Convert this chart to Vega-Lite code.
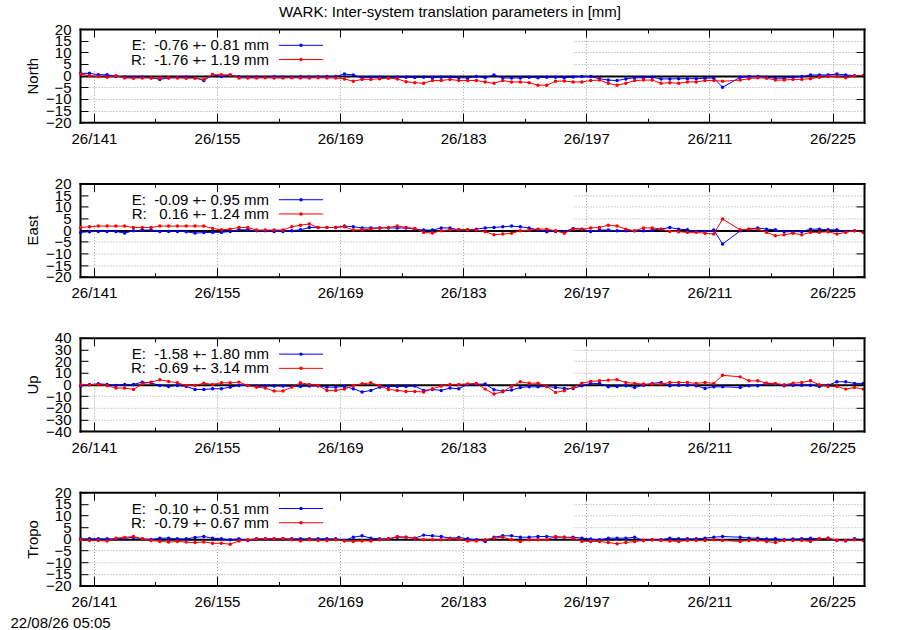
{
  "$schema": "https://vega.github.io/schema/vega-lite/v6.json",
  "autosize": {"type": "pad"},
  "padding": {"left": 10, "top": 5, "right": 35, "bottom": 5},
  "background": "white",
  "title": {
    "text": "WARK: Inter-system translation parameters in [mm]",
    "anchor": "middle",
    "frame": "group",
    "dx": -22,
    "offset": -10,
    "baseline": "alphabetic",
    "font": "Liberation Sans",
    "fontSize": 15,
    "fontWeight": "normal",
    "color": "black"
  },
  "datasets": {
    "trans": [
      {"day":139.5,"north_E":1.0,"north_R":0.7,"east_E":-1.0,"east_R":1.1,"up_E":-1.4,"up_R":-0.3,"tropo_E":0.0,"tropo_R":-0.4},
      {"day":140.5,"north_E":1.0,"north_R":0.0,"east_E":-0.7,"east_R":1.4,"up_E":-0.3,"up_R":0.0,"tropo_E":0.0,"tropo_R":-0.7},
      {"day":141.5,"north_E":0.4,"north_R":-0.4,"east_E":-0.6,"east_R":1.7,"up_E":0.6,"up_R":0.0,"tropo_E":0.0,"tropo_R":-0.7},
      {"day":142.5,"north_E":0.4,"north_R":-0.7,"east_E":-0.6,"east_R":1.7,"up_E":0.0,"up_R":-0.9,"tropo_E":0.0,"tropo_R":-0.9},
      {"day":143.5,"north_E":-0.3,"north_R":0.0,"east_E":-0.6,"east_R":1.7,"up_E":-0.9,"up_R":-3.1,"tropo_E":0.0,"tropo_R":0.3},
      {"day":144.5,"north_E":-0.6,"north_R":-1.0,"east_E":-1.3,"east_R":1.7,"up_E":0.0,"up_R":-3.1,"tropo_E":0.3,"tropo_R":0.6},
      {"day":145.5,"north_E":-0.7,"north_R":-1.1,"east_E":-0.3,"east_R":1.1,"up_E":0.0,"up_R":-4.3,"tropo_E":0.6,"tropo_R":1.0},
      {"day":146.5,"north_E":-0.6,"north_R":-1.0,"east_E":0.0,"east_R":1.1,"up_E":2.0,"up_R":0.6,"tropo_E":0.0,"tropo_R":0.0},
      {"day":147.5,"north_E":-0.9,"north_R":-1.0,"east_E":0.0,"east_R":1.1,"up_E":1.4,"up_R":2.0,"tropo_E":-0.3,"tropo_R":-0.7},
      {"day":148.5,"north_E":-1.6,"north_R":-1.0,"east_E":-0.6,"east_R":1.7,"up_E":-0.9,"up_R":4.0,"tropo_E":0.3,"tropo_R":-1.1},
      {"day":149.5,"north_E":-1.0,"north_R":-0.9,"east_E":-0.6,"east_R":1.7,"up_E":-1.7,"up_R":2.6,"tropo_E":0.3,"tropo_R":-1.4},
      {"day":150.5,"north_E":-0.8,"north_R":-1.0,"east_E":-0.6,"east_R":1.7,"up_E":-0.9,"up_R":1.4,"tropo_E":0.0,"tropo_R":-1.1},
      {"day":151.5,"north_E":-0.6,"north_R":-1.1,"east_E":-0.7,"east_R":1.7,"up_E":-1.7,"up_R":-0.9,"tropo_E":0.0,"tropo_R":-1.4},
      {"day":152.5,"north_E":-0.9,"north_R":-1.1,"east_E":-1.3,"east_R":1.7,"up_E":-4.3,"up_R":-0.9,"tropo_E":0.6,"tropo_R":-1.6},
      {"day":153.5,"north_E":-2.1,"north_R":-1.6,"east_E":-1.1,"east_R":1.7,"up_E":-4.3,"up_R":1.1,"tropo_E":1.0,"tropo_R":-1.3},
      {"day":154.5,"north_E":0.4,"north_R":0.4,"east_E":-1.0,"east_R":0.7,"up_E":-3.7,"up_R":0.0,"tropo_E":0.3,"tropo_R":-1.9},
      {"day":155.5,"north_E":-0.4,"north_R":0.4,"east_E":-1.0,"east_R":0.1,"up_E":-3.7,"up_R":1.4,"tropo_E":0.0,"tropo_R":-1.9},
      {"day":156.5,"north_E":0.3,"north_R":0.3,"east_E":-0.6,"east_R":0.4,"up_E":-2.3,"up_R":1.4,"tropo_E":-0.4,"tropo_R":-2.3},
      {"day":157.5,"north_E":-0.5,"north_R":-1.0,"east_E":0.1,"east_R":1.1,"up_E":-0.9,"up_R":2.0,"tropo_E":0.0,"tropo_R":-0.9},
      {"day":158.5,"north_E":-0.7,"north_R":-1.0,"east_E":0.1,"east_R":1.1,"up_E":-0.9,"up_R":-0.9,"tropo_E":-0.7,"tropo_R":-0.4},
      {"day":159.5,"north_E":-0.6,"north_R":-1.0,"east_E":-0.3,"east_R":0.0,"up_E":-1.7,"up_R":-2.3,"tropo_E":0.0,"tropo_R":0.0},
      {"day":160.5,"north_E":-0.7,"north_R":-0.9,"east_E":-0.3,"east_R":0.0,"up_E":-1.4,"up_R":-3.1,"tropo_E":0.0,"tropo_R":0.0},
      {"day":161.5,"north_E":-0.5,"north_R":-1.0,"east_E":-0.6,"east_R":0.0,"up_E":-1.4,"up_R":-5.7,"tropo_E":0.0,"tropo_R":0.0},
      {"day":162.5,"north_E":-0.6,"north_R":-1.0,"east_E":-0.6,"east_R":0.0,"up_E":-1.4,"up_R":-5.7,"tropo_E":0.0,"tropo_R":0.0},
      {"day":163.5,"north_E":-0.7,"north_R":-0.9,"east_E":-0.3,"east_R":1.4,"up_E":-1.7,"up_R":-2.3,"tropo_E":0.0,"tropo_R":-0.4},
      {"day":164.5,"north_E":-0.5,"north_R":-1.0,"east_E":0.1,"east_R":2.1,"up_E":-1.7,"up_R":1.4,"tropo_E":0.0,"tropo_R":-0.9},
      {"day":165.5,"north_E":-0.6,"north_R":-1.0,"east_E":1.1,"east_R":2.6,"up_E":-1.4,"up_R":0.0,"tropo_E":0.0,"tropo_R":-0.4},
      {"day":166.5,"north_E":-0.5,"north_R":-0.9,"east_E":1.1,"east_R":1.1,"up_E":-1.4,"up_R":-0.9,"tropo_E":0.0,"tropo_R":-0.7},
      {"day":167.5,"north_E":-0.4,"north_R":-1.0,"east_E":1.1,"east_R":1.1,"up_E":-2.3,"up_R":-5.1,"tropo_E":0.0,"tropo_R":-0.7},
      {"day":168.5,"north_E":-0.4,"north_R":-1.0,"east_E":1.1,"east_R":1.1,"up_E":-2.3,"up_R":-5.1,"tropo_E":0.0,"tropo_R":-0.4},
      {"day":169.5,"north_E":0.7,"north_R":-1.4,"east_E":1.7,"east_R":1.4,"up_E":-1.7,"up_R":-4.0,"tropo_E":-0.7,"tropo_R":-0.9},
      {"day":170.5,"north_E":0.3,"north_R":-2.4,"east_E":1.4,"east_R":0.0,"up_E":-3.7,"up_R":-1.0,"tropo_E":0.7,"tropo_R":-1.1},
      {"day":171.5,"north_E":-1.0,"north_R":-1.6,"east_E":0.9,"east_R":0.1,"up_E":-6.5,"up_R":0.6,"tropo_E":1.3,"tropo_R":-0.9},
      {"day":172.5,"north_E":-0.7,"north_R":-1.6,"east_E":0.9,"east_R":0.4,"up_E":-5.1,"up_R":1.4,"tropo_E":0.3,"tropo_R":-0.9},
      {"day":173.5,"north_E":-0.7,"north_R":-1.3,"east_E":0.9,"east_R":0.9,"up_E":-2.3,"up_R":-0.9,"tropo_E":0.0,"tropo_R":-0.4},
      {"day":174.5,"north_E":-0.9,"north_R":-1.1,"east_E":0.9,"east_R":1.1,"up_E":-1.7,"up_R":-4.3,"tropo_E":0.0,"tropo_R":0.0},
      {"day":175.5,"north_E":-0.7,"north_R":-1.4,"east_E":0.9,"east_R":1.7,"up_E":-1.7,"up_R":-5.1,"tropo_E":0.7,"tropo_R":1.0},
      {"day":176.5,"north_E":-0.7,"north_R":-2.6,"east_E":0.9,"east_R":1.1,"up_E":-1.7,"up_R":-6.0,"tropo_E":0.7,"tropo_R":0.7},
      {"day":177.5,"north_E":-0.8,"north_R":-3.0,"east_E":0.4,"east_R":0.7,"up_E":-1.4,"up_R":-6.0,"tropo_E":0.3,"tropo_R":0.3},
      {"day":178.5,"north_E":-0.7,"north_R":-3.3,"east_E":0.0,"east_R":-1.0,"up_E":-5.1,"up_R":-6.5,"tropo_E":1.6,"tropo_R":-0.4},
      {"day":179.5,"north_E":-0.9,"north_R":-2.1,"east_E":0.0,"east_R":-1.3,"up_E":-4.3,"up_R":-3.7,"tropo_E":1.3,"tropo_R":-0.4},
      {"day":180.5,"north_E":-0.7,"north_R":-2.1,"east_E":0.9,"east_R":-0.3,"up_E":-5.1,"up_R":-1.4,"tropo_E":1.0,"tropo_R":-0.4},
      {"day":181.5,"north_E":-0.7,"north_R":-1.6,"east_E":0.9,"east_R":0.1,"up_E":-3.1,"up_R":0.0,"tropo_E":0.3,"tropo_R":0.0},
      {"day":182.5,"north_E":-0.9,"north_R":-2.1,"east_E":0.1,"east_R":0.1,"up_E":-3.7,"up_R":0.0,"tropo_E":0.6,"tropo_R":0.0},
      {"day":183.5,"north_E":-1.0,"north_R":-2.1,"east_E":0.1,"east_R":0.1,"up_E":0.0,"up_R":0.5,"tropo_E":0.0,"tropo_R":-0.9},
      {"day":184.5,"north_E":-0.4,"north_R":-2.1,"east_E":0.4,"east_R":0.0,"up_E":0.3,"up_R":0.9,"tropo_E":-0.4,"tropo_R":-0.9},
      {"day":185.5,"north_E":-0.9,"north_R":-2.7,"east_E":0.9,"east_R":-0.7,"up_E":0.3,"up_R":-4.0,"tropo_E":-1.1,"tropo_R":-0.4},
      {"day":186.5,"north_E":0.3,"north_R":-3.3,"east_E":1.1,"east_R":-2.0,"up_E":-4.5,"up_R":-8.2,"tropo_E":0.7,"tropo_R":0.3},
      {"day":187.5,"north_E":-1.0,"north_R":-2.1,"east_E":1.4,"east_R":-1.7,"up_E":-5.7,"up_R":-6.2,"tropo_E":1.3,"tropo_R":0.7},
      {"day":188.5,"north_E":-1.0,"north_R":-2.7,"east_E":1.7,"east_R":-1.4,"up_E":-4.8,"up_R":-1.7,"tropo_E":1.3,"tropo_R":-0.4},
      {"day":189.5,"north_E":-1.0,"north_R":-2.7,"east_E":1.4,"east_R":-0.3,"up_E":-2.6,"up_R":2.3,"tropo_E":0.7,"tropo_R":-1.1},
      {"day":190.5,"north_E":-0.7,"north_R":-3.0,"east_E":0.9,"east_R":0.0,"up_E":-2.0,"up_R":1.1,"tropo_E":0.7,"tropo_R":-0.4},
      {"day":191.5,"north_E":-0.9,"north_R":-4.1,"east_E":0.1,"east_R":0.4,"up_E":-2.0,"up_R":1.1,"tropo_E":1.0,"tropo_R":-0.4},
      {"day":192.5,"north_E":-0.7,"north_R":-4.1,"east_E":-0.7,"east_R":0.4,"up_E":-1.7,"up_R":-1.7,"tropo_E":1.0,"tropo_R":-0.4},
      {"day":193.5,"north_E":-0.7,"north_R":-2.4,"east_E":-0.6,"east_R":-0.3,"up_E":-2.6,"up_R":-6.8,"tropo_E":0.7,"tropo_R":1.0},
      {"day":194.5,"north_E":-0.9,"north_R":-2.3,"east_E":-0.7,"east_R":-1.4,"up_E":-3.4,"up_R":-5.4,"tropo_E":0.7,"tropo_R":0.7},
      {"day":195.5,"north_E":-0.6,"north_R":-2.7,"east_E":0.7,"east_R":0.4,"up_E":-3.4,"up_R":-2.6,"tropo_E":0.7,"tropo_R":0.3},
      {"day":196.5,"north_E":-0.4,"north_R":-2.7,"east_E":0.4,"east_R":0.4,"up_E":-1.1,"up_R":1.1,"tropo_E":0.3,"tropo_R":-1.1},
      {"day":197.5,"north_E":-0.4,"north_R":-2.1,"east_E":-0.6,"east_R":0.9,"up_E":0.9,"up_R":2.6,"tropo_E":-0.1,"tropo_R":-1.1},
      {"day":198.5,"north_E":-1.3,"north_R":-1.9,"east_E":0.0,"east_R":1.1,"up_E":0.9,"up_R":3.1,"tropo_E":-0.4,"tropo_R":-1.1},
      {"day":199.5,"north_E":-1.9,"north_R":-3.3,"east_E":0.0,"east_R":2.1,"up_E":-2.0,"up_R":3.7,"tropo_E":0.3,"tropo_R":-1.6},
      {"day":200.5,"north_E":-2.1,"north_R":-4.1,"east_E":-0.3,"east_R":1.7,"up_E":-1.7,"up_R":4.0,"tropo_E":0.3,"tropo_R":-2.1},
      {"day":201.5,"north_E":-1.4,"north_R":-3.3,"east_E":-0.3,"east_R":0.4,"up_E":-1.1,"up_R":1.7,"tropo_E":0.3,"tropo_R":-1.6},
      {"day":202.5,"north_E":-0.9,"north_R":-2.1,"east_E":-0.3,"east_R":-0.3,"up_E":-2.6,"up_R":0.9,"tropo_E":0.7,"tropo_R":-1.1},
      {"day":203.5,"north_E":-0.9,"north_R":-1.9,"east_E":-0.3,"east_R":0.9,"up_E":-0.6,"up_R":0.3,"tropo_E":-0.7,"tropo_R":-0.7},
      {"day":204.5,"north_E":-0.7,"north_R":-1.9,"east_E":0.0,"east_R":0.9,"up_E":0.9,"up_R":0.3,"tropo_E":-0.4,"tropo_R":-0.4},
      {"day":205.5,"north_E":-1.4,"north_R":-3.3,"east_E":0.4,"east_R":0.4,"up_E":1.7,"up_R":0.3,"tropo_E":-0.4,"tropo_R":-0.7},
      {"day":206.5,"north_E":-1.4,"north_R":-3.0,"east_E":1.1,"east_R":-0.6,"up_E":-1.1,"up_R":1.7,"tropo_E":0.3,"tropo_R":-0.9},
      {"day":207.5,"north_E":-1.3,"north_R":-3.3,"east_E":0.4,"east_R":-0.7,"up_E":-0.6,"up_R":1.7,"tropo_E":0.0,"tropo_R":-1.1},
      {"day":208.5,"north_E":-1.3,"north_R":-2.7,"east_E":0.1,"east_R":-1.0,"up_E":-0.6,"up_R":1.7,"tropo_E":0.0,"tropo_R":-0.7},
      {"day":209.5,"north_E":-1.3,"north_R":-2.7,"east_E":-0.6,"east_R":-1.0,"up_E":-1.1,"up_R":0.9,"tropo_E":0.0,"tropo_R":-0.7},
      {"day":210.5,"north_E":-1.1,"north_R":-2.1,"east_E":-0.6,"east_R":-1.4,"up_E":-3.4,"up_R":1.7,"tropo_E":0.3,"tropo_R":-0.7},
      {"day":211.5,"north_E":-1.0,"north_R":-2.1,"east_E":0.0,"east_R":-1.7,"up_E":-2.0,"up_R":0.9,"tropo_E":0.7,"tropo_R":-0.4},
      {"day":212.5,"north_E":-5.0,"north_R":-2.4,"east_E":-6.0,"east_R":4.7,"up_E":-2.0,"up_R":7.9,"tropo_E":1.0,"tropo_R":-0.7},
      {"day":214.5,"north_E":-0.7,"north_R":-1.9,"east_E":-0.3,"east_R":0.1,"up_E":-2.6,"up_R":6.5,"tropo_E":0.7,"tropo_R":-1.1},
      {"day":215.5,"north_E":-0.4,"north_R":-1.3,"east_E":0.4,"east_R":0.4,"up_E":-1.1,"up_R":3.1,"tropo_E":0.3,"tropo_R":-0.7},
      {"day":216.5,"north_E":-0.4,"north_R":-0.9,"east_E":0.9,"east_R":0.4,"up_E":-1.1,"up_R":3.1,"tropo_E":0.3,"tropo_R":-0.7},
      {"day":217.5,"north_E":-0.7,"north_R":-1.1,"east_E":0.4,"east_R":-1.0,"up_E":1.1,"up_R":1.1,"tropo_E":-0.1,"tropo_R":-1.1},
      {"day":218.5,"north_E":-1.1,"north_R":-1.9,"east_E":0.1,"east_R":-2.4,"up_E":0.3,"up_R":0.9,"tropo_E":0.0,"tropo_R":-1.6},
      {"day":219.5,"north_E":-1.1,"north_R":-1.9,"east_E":-0.7,"east_R":-2.0,"up_E":-1.1,"up_R":-0.3,"tropo_E":-0.4,"tropo_R":-0.7},
      {"day":220.5,"north_E":-0.7,"north_R":-1.6,"east_E":-0.7,"east_R":-1.4,"up_E":-0.6,"up_R":1.1,"tropo_E":-0.1,"tropo_R":-0.7},
      {"day":221.5,"north_E":-0.4,"north_R":-1.6,"east_E":-0.7,"east_R":-2.0,"up_E":-0.6,"up_R":1.7,"tropo_E":0.0,"tropo_R":-0.7},
      {"day":222.5,"north_E":0.3,"north_R":-1.3,"east_E":0.4,"east_R":-1.0,"up_E":-0.6,"up_R":3.1,"tropo_E":0.3,"tropo_R":-1.1},
      {"day":223.5,"north_E":0.3,"north_R":-0.7,"east_E":0.4,"east_R":-1.0,"up_E":-1.7,"up_R":-0.3,"tropo_E":0.0,"tropo_R":0.0},
      {"day":224.5,"north_E":0.3,"north_R":-0.4,"east_E":0.1,"east_R":-0.7,"up_E":-0.6,"up_R":-1.7,"tropo_E":0.3,"tropo_R":0.3},
      {"day":225.5,"north_E":0.7,"north_R":-0.4,"east_E":0.1,"east_R":-1.7,"up_E":2.3,"up_R":-1.7,"tropo_E":-0.7,"tropo_R":-0.7},
      {"day":226.5,"north_E":0.3,"north_R":-0.9,"east_E":-0.6,"east_R":-1.0,"up_E":2.3,"up_R":-4.0,"tropo_E":-0.9,"tropo_R":-0.7},
      {"day":227.5,"north_E":0.0,"north_R":-0.1,"east_E":-0.3,"east_R":-0.3,"up_E":0.9,"up_R":-2.6,"tropo_E":0.0,"tropo_R":-0.4},
      {"day":228.5,"north_E":0.0,"north_R":-0.1,"east_E":-0.6,"east_R":-1.0,"up_E":0.9,"up_R":-4.0,"tropo_E":-0.4,"tropo_R":-0.7}
    ],
    "keys": [
      {"panel": "north", "series": "E", "label": "E:\u00a0\u00a0-0.76 +- 0.81 mm"},
      {"panel": "north", "series": "R", "label": "R:\u00a0\u00a0-1.76 +- 1.19 mm"},
      {"panel": "east", "series": "E", "label": "E:\u00a0\u00a0-0.09 +- 0.95 mm"},
      {"panel": "east", "series": "R", "label": "R:\u00a0\u00a0\u00a00.16 +- 1.24 mm"},
      {"panel": "up", "series": "E", "label": "E:\u00a0\u00a0-1.58 +- 1.80 mm"},
      {"panel": "up", "series": "R", "label": "R:\u00a0\u00a0-0.69 +- 3.14 mm"},
      {"panel": "tropo", "series": "E", "label": "E:\u00a0\u00a0-0.10 +- 0.51 mm"},
      {"panel": "tropo", "series": "R", "label": "R:\u00a0\u00a0-0.79 +- 0.67 mm"}
    ]
  },
  "data": {"name": "trans"},
  "bounds": "flush",
  "spacing": 60.4,
  "vconcat": [
    {
      "width": 784,
      "height": 93.3,
      "layer": [
        {
          "mark": {"type": "point", "opacity": 0},
          "encoding": {
            "x": {"field": "day", "type": "quantitative", "scale": {"domain": [139.42, 228.58], "nice": false, "zero": false},
              "axis": {"orient": "top", "values": [141,148,155,162,169,176,183,190,197,204,211,218,225], "title": null, "labels": false, "grid": true, "gridColor": "#a0a0a0", "gridDash": [1, 2], "gridOpacity": {"condition": {"test": "datum.value % 14 !== 1", "value": 0}, "value": 1}, "tickSize": {"condition": {"test": "datum.value % 14 !== 1", "value": -4}, "value": -8}}},
            "y": {"field": "north_E", "type": "quantitative", "scale": {"domain": [-20, 20], "nice": false, "zero": false},
              "axis": {"orient": "left", "values": [-20,-15,-10,-5,0,5,10,15,20], "title": "North", "titleX": -48, "titleY": 46.65, "titleAngle": -90, "titleAlign": "center", "titleBaseline": "middle", "labelOverlap": false, "labelPadding": 17, "labelBaseline": "middle", "tickSize": -8, "grid": true, "gridColor": {"condition": {"test": "datum.value === 0", "value": "black"}, "value": "#a0a0a0"}, "gridDash": {"condition": {"test": "datum.value === 0", "value": []}, "value": [1, 2]}, "gridWidth": {"condition": {"test": "datum.value === 0", "value": 2}, "value": 1}}}
          }
        },
        {
          "layer": [
            {"data": {"values": [{}]}, "mark": {"type": "rect", "color": "white"}, "encoding": {"x": {"datum": 140.5}, "x2": {"datum": 195.5}, "y": {"datum": 16.1}, "y2": {"datum": 2.5}}},
            {
              "mark": {"type": "line", "color": "#0000ff", "strokeWidth": 1, "point": {"filled": true, "size": 12, "color": "#0000ff"}},
              "encoding": {
                "x": {"field": "day", "type": "quantitative", "scale": {"domain": [139.42, 228.58], "nice": false, "zero": false},
                  "axis": {"orient": "bottom", "values": [141,148,155,162,169,176,183,190,197,204,211,218,225], "title": null, "labelExpr": "datum.value % 14 === 1 ? '26/' + datum.value : ''", "labelOverlap": false, "labelPadding": 18, "tickSize": {"condition": {"test": "datum.value % 14 !== 1", "value": -4}, "value": -9}, "zindex": 1}},
                "y": {"field": "north_E", "type": "quantitative", "scale": {"domain": [-20, 20], "nice": false, "zero": false},
                  "axis": {"orient": "right", "values": [-20,-15,-10,-5,0,5,10,15,20], "tickCount": 8, "title": null, "labels": false, "tickSize": -8, "zindex": 1}}
              }
            },
            {
              "mark": {"type": "line", "color": "#ff0000", "strokeWidth": 1, "point": {"filled": true, "size": 12, "color": "#ff0000"}},
              "encoding": {"x": {"field": "day", "type": "quantitative"},
                "y": {"field": "north_R", "type": "quantitative", "axis": {"orient": "right", "values": [-20,-15,-10,-5,0,5,10,15,20], "tickCount": 8, "title": null, "labels": false, "tickSize": -8, "zindex": 1}}}
            },
            {"data": {"name": "keys"}, "transform": [{"filter": "datum.panel === 'north' && datum.series === 'E'"}], "mark": {"type": "text", "align": "right", "baseline": "middle", "font": "Liberation Sans", "fontSize": 15, "color": "black"}, "encoding": {"x": {"datum": 160.9}, "y": {"datum": 13.0}, "text": {"field": "label"}}},
            {"data": {"values": [{}]}, "mark": {"type": "rule", "color": "#0000ff", "strokeWidth": 1}, "encoding": {"x": {"datum": 162.05}, "x2": {"datum": 167.06}, "y": {"datum": 13.0}}},
            {"data": {"values": [{}]}, "mark": {"type": "point", "filled": true, "size": 12, "color": "#0000ff", "opacity": 1}, "encoding": {"x": {"datum": 164.55}, "y": {"datum": 13.0}}},
            {"data": {"name": "keys"}, "transform": [{"filter": "datum.panel === 'north' && datum.series === 'R'"}], "mark": {"type": "text", "align": "right", "baseline": "middle", "font": "Liberation Sans", "fontSize": 15, "color": "black"}, "encoding": {"x": {"datum": 160.9}, "y": {"datum": 6.9}, "text": {"field": "label"}}},
            {"data": {"values": [{}]}, "mark": {"type": "rule", "color": "#ff0000", "strokeWidth": 1}, "encoding": {"x": {"datum": 162.05}, "x2": {"datum": 167.06}, "y": {"datum": 6.9}}},
            {"data": {"values": [{}]}, "mark": {"type": "point", "filled": true, "size": 12, "color": "#ff0000", "opacity": 1}, "encoding": {"x": {"datum": 164.55}, "y": {"datum": 6.9}}}
          ]
        }
      ],
      "resolve": {"scale": {"x": "independent", "y": "independent"}}
    },
    {
      "width": 784,
      "height": 93.3,
      "layer": [
        {
          "mark": {"type": "point", "opacity": 0},
          "encoding": {
            "x": {"field": "day", "type": "quantitative", "scale": {"domain": [139.42, 228.58], "nice": false, "zero": false},
              "axis": {"orient": "top", "values": [141,148,155,162,169,176,183,190,197,204,211,218,225], "title": null, "labels": false, "grid": true, "gridColor": "#a0a0a0", "gridDash": [1, 2], "gridOpacity": {"condition": {"test": "datum.value % 14 !== 1", "value": 0}, "value": 1}, "tickSize": {"condition": {"test": "datum.value % 14 !== 1", "value": -4}, "value": -8}}},
            "y": {"field": "east_E", "type": "quantitative", "scale": {"domain": [-20, 20], "nice": false, "zero": false},
              "axis": {"orient": "left", "values": [-20,-15,-10,-5,0,5,10,15,20], "title": "East", "titleX": -48, "titleY": 46.65, "titleAngle": -90, "titleAlign": "center", "titleBaseline": "middle", "labelOverlap": false, "labelPadding": 17, "labelBaseline": "middle", "tickSize": -8, "grid": true, "gridColor": {"condition": {"test": "datum.value === 0", "value": "black"}, "value": "#a0a0a0"}, "gridDash": {"condition": {"test": "datum.value === 0", "value": []}, "value": [1, 2]}, "gridWidth": {"condition": {"test": "datum.value === 0", "value": 2}, "value": 1}}}
          }
        },
        {
          "layer": [
            {"data": {"values": [{}]}, "mark": {"type": "rect", "color": "white"}, "encoding": {"x": {"datum": 140.5}, "x2": {"datum": 195.5}, "y": {"datum": 16.1}, "y2": {"datum": 2.5}}},
            {
              "mark": {"type": "line", "color": "#0000ff", "strokeWidth": 1, "point": {"filled": true, "size": 12, "color": "#0000ff"}},
              "encoding": {
                "x": {"field": "day", "type": "quantitative", "scale": {"domain": [139.42, 228.58], "nice": false, "zero": false},
                  "axis": {"orient": "bottom", "values": [141,148,155,162,169,176,183,190,197,204,211,218,225], "title": null, "labelExpr": "datum.value % 14 === 1 ? '26/' + datum.value : ''", "labelOverlap": false, "labelPadding": 18, "tickSize": {"condition": {"test": "datum.value % 14 !== 1", "value": -4}, "value": -9}, "zindex": 1}},
                "y": {"field": "east_E", "type": "quantitative", "scale": {"domain": [-20, 20], "nice": false, "zero": false},
                  "axis": {"orient": "right", "values": [-20,-15,-10,-5,0,5,10,15,20], "tickCount": 8, "title": null, "labels": false, "tickSize": -8, "zindex": 1}}
              }
            },
            {
              "mark": {"type": "line", "color": "#ff0000", "strokeWidth": 1, "point": {"filled": true, "size": 12, "color": "#ff0000"}},
              "encoding": {"x": {"field": "day", "type": "quantitative"},
                "y": {"field": "east_R", "type": "quantitative", "axis": {"orient": "right", "values": [-20,-15,-10,-5,0,5,10,15,20], "tickCount": 8, "title": null, "labels": false, "tickSize": -8, "zindex": 1}}}
            },
            {"data": {"name": "keys"}, "transform": [{"filter": "datum.panel === 'east' && datum.series === 'E'"}], "mark": {"type": "text", "align": "right", "baseline": "middle", "font": "Liberation Sans", "fontSize": 15, "color": "black"}, "encoding": {"x": {"datum": 160.9}, "y": {"datum": 13.0}, "text": {"field": "label"}}},
            {"data": {"values": [{}]}, "mark": {"type": "rule", "color": "#0000ff", "strokeWidth": 1}, "encoding": {"x": {"datum": 162.05}, "x2": {"datum": 167.06}, "y": {"datum": 13.0}}},
            {"data": {"values": [{}]}, "mark": {"type": "point", "filled": true, "size": 12, "color": "#0000ff", "opacity": 1}, "encoding": {"x": {"datum": 164.55}, "y": {"datum": 13.0}}},
            {"data": {"name": "keys"}, "transform": [{"filter": "datum.panel === 'east' && datum.series === 'R'"}], "mark": {"type": "text", "align": "right", "baseline": "middle", "font": "Liberation Sans", "fontSize": 15, "color": "black"}, "encoding": {"x": {"datum": 160.9}, "y": {"datum": 6.9}, "text": {"field": "label"}}},
            {"data": {"values": [{}]}, "mark": {"type": "rule", "color": "#ff0000", "strokeWidth": 1}, "encoding": {"x": {"datum": 162.05}, "x2": {"datum": 167.06}, "y": {"datum": 6.9}}},
            {"data": {"values": [{}]}, "mark": {"type": "point", "filled": true, "size": 12, "color": "#ff0000", "opacity": 1}, "encoding": {"x": {"datum": 164.55}, "y": {"datum": 6.9}}}
          ]
        }
      ],
      "resolve": {"scale": {"x": "independent", "y": "independent"}}
    },
    {
      "width": 784,
      "height": 93.3,
      "layer": [
        {
          "mark": {"type": "point", "opacity": 0},
          "encoding": {
            "x": {"field": "day", "type": "quantitative", "scale": {"domain": [139.42, 228.58], "nice": false, "zero": false},
              "axis": {"orient": "top", "values": [141,148,155,162,169,176,183,190,197,204,211,218,225], "title": null, "labels": false, "grid": true, "gridColor": "#a0a0a0", "gridDash": [1, 2], "gridOpacity": {"condition": {"test": "datum.value % 14 !== 1", "value": 0}, "value": 1}, "tickSize": {"condition": {"test": "datum.value % 14 !== 1", "value": -4}, "value": -8}}},
            "y": {"field": "up_E", "type": "quantitative", "scale": {"domain": [-40, 40], "nice": false, "zero": false},
              "axis": {"orient": "left", "values": [-40,-30,-20,-10,0,10,20,30,40], "title": "Up", "titleX": -48, "titleY": 46.65, "titleAngle": -90, "titleAlign": "center", "titleBaseline": "middle", "labelOverlap": false, "labelPadding": 17, "labelBaseline": "middle", "tickSize": -8, "grid": true, "gridColor": {"condition": {"test": "datum.value === 0", "value": "black"}, "value": "#a0a0a0"}, "gridDash": {"condition": {"test": "datum.value === 0", "value": []}, "value": [1, 2]}, "gridWidth": {"condition": {"test": "datum.value === 0", "value": 2}, "value": 1}}}
          }
        },
        {
          "layer": [
            {"data": {"values": [{}]}, "mark": {"type": "rect", "color": "white"}, "encoding": {"x": {"datum": 140.5}, "x2": {"datum": 195.5}, "y": {"datum": 32.2}, "y2": {"datum": 5}}},
            {
              "mark": {"type": "line", "color": "#0000ff", "strokeWidth": 1, "point": {"filled": true, "size": 12, "color": "#0000ff"}},
              "encoding": {
                "x": {"field": "day", "type": "quantitative", "scale": {"domain": [139.42, 228.58], "nice": false, "zero": false},
                  "axis": {"orient": "bottom", "values": [141,148,155,162,169,176,183,190,197,204,211,218,225], "title": null, "labelExpr": "datum.value % 14 === 1 ? '26/' + datum.value : ''", "labelOverlap": false, "labelPadding": 18, "tickSize": {"condition": {"test": "datum.value % 14 !== 1", "value": -4}, "value": -9}, "zindex": 1}},
                "y": {"field": "up_E", "type": "quantitative", "scale": {"domain": [-40, 40], "nice": false, "zero": false},
                  "axis": {"orient": "right", "values": [-40,-30,-20,-10,0,10,20,30,40], "tickCount": 8, "title": null, "labels": false, "tickSize": -8, "zindex": 1}}
              }
            },
            {
              "mark": {"type": "line", "color": "#ff0000", "strokeWidth": 1, "point": {"filled": true, "size": 12, "color": "#ff0000"}},
              "encoding": {"x": {"field": "day", "type": "quantitative"},
                "y": {"field": "up_R", "type": "quantitative", "axis": {"orient": "right", "values": [-40,-30,-20,-10,0,10,20,30,40], "tickCount": 8, "title": null, "labels": false, "tickSize": -8, "zindex": 1}}}
            },
            {"data": {"name": "keys"}, "transform": [{"filter": "datum.panel === 'up' && datum.series === 'E'"}], "mark": {"type": "text", "align": "right", "baseline": "middle", "font": "Liberation Sans", "fontSize": 15, "color": "black"}, "encoding": {"x": {"datum": 160.9}, "y": {"datum": 26.0}, "text": {"field": "label"}}},
            {"data": {"values": [{}]}, "mark": {"type": "rule", "color": "#0000ff", "strokeWidth": 1}, "encoding": {"x": {"datum": 162.05}, "x2": {"datum": 167.06}, "y": {"datum": 26.0}}},
            {"data": {"values": [{}]}, "mark": {"type": "point", "filled": true, "size": 12, "color": "#0000ff", "opacity": 1}, "encoding": {"x": {"datum": 164.55}, "y": {"datum": 26.0}}},
            {"data": {"name": "keys"}, "transform": [{"filter": "datum.panel === 'up' && datum.series === 'R'"}], "mark": {"type": "text", "align": "right", "baseline": "middle", "font": "Liberation Sans", "fontSize": 15, "color": "black"}, "encoding": {"x": {"datum": 160.9}, "y": {"datum": 13.8}, "text": {"field": "label"}}},
            {"data": {"values": [{}]}, "mark": {"type": "rule", "color": "#ff0000", "strokeWidth": 1}, "encoding": {"x": {"datum": 162.05}, "x2": {"datum": 167.06}, "y": {"datum": 13.8}}},
            {"data": {"values": [{}]}, "mark": {"type": "point", "filled": true, "size": 12, "color": "#ff0000", "opacity": 1}, "encoding": {"x": {"datum": 164.55}, "y": {"datum": 13.8}}}
          ]
        }
      ],
      "resolve": {"scale": {"x": "independent", "y": "independent"}}
    },
    {
      "width": 784,
      "height": 93.3,
      "layer": [
        {
          "mark": {"type": "point", "opacity": 0},
          "encoding": {
            "x": {"field": "day", "type": "quantitative", "scale": {"domain": [139.42, 228.58], "nice": false, "zero": false},
              "axis": {"orient": "top", "values": [141,148,155,162,169,176,183,190,197,204,211,218,225], "title": null, "labels": false, "grid": true, "gridColor": "#a0a0a0", "gridDash": [1, 2], "gridOpacity": {"condition": {"test": "datum.value % 14 !== 1", "value": 0}, "value": 1}, "tickSize": {"condition": {"test": "datum.value % 14 !== 1", "value": -4}, "value": -8}}},
            "y": {"field": "tropo_E", "type": "quantitative", "scale": {"domain": [-20, 20], "nice": false, "zero": false},
              "axis": {"orient": "left", "values": [-20,-15,-10,-5,0,5,10,15,20], "title": "Tropo", "titleX": -48, "titleY": 46.65, "titleAngle": -90, "titleAlign": "center", "titleBaseline": "middle", "labelOverlap": false, "labelPadding": 17, "labelBaseline": "middle", "tickSize": -8, "grid": true, "gridColor": {"condition": {"test": "datum.value === 0", "value": "black"}, "value": "#a0a0a0"}, "gridDash": {"condition": {"test": "datum.value === 0", "value": []}, "value": [1, 2]}, "gridWidth": {"condition": {"test": "datum.value === 0", "value": 2}, "value": 1}}}
          }
        },
        {
          "layer": [
            {"data": {"values": [{}]}, "mark": {"type": "rect", "color": "white"}, "encoding": {"x": {"datum": 140.5}, "x2": {"datum": 195.5}, "y": {"datum": 16.1}, "y2": {"datum": 2.5}}},
            {
              "mark": {"type": "line", "color": "#0000ff", "strokeWidth": 1, "point": {"filled": true, "size": 12, "color": "#0000ff"}},
              "encoding": {
                "x": {"field": "day", "type": "quantitative", "scale": {"domain": [139.42, 228.58], "nice": false, "zero": false},
                  "axis": {"orient": "bottom", "values": [141,148,155,162,169,176,183,190,197,204,211,218,225], "title": "22/08/26 05:05", "titleX": -70, "titleY": 42, "titleAlign": "left", "titleBaseline": "alphabetic", "titleAngle": 0, "labelExpr": "datum.value % 14 === 1 ? '26/' + datum.value : ''", "labelOverlap": false, "labelPadding": 18, "tickSize": {"condition": {"test": "datum.value % 14 !== 1", "value": -4}, "value": -9}, "zindex": 1}},
                "y": {"field": "tropo_E", "type": "quantitative", "scale": {"domain": [-20, 20], "nice": false, "zero": false},
                  "axis": {"orient": "right", "values": [-20,-15,-10,-5,0,5,10,15,20], "tickCount": 8, "title": null, "labels": false, "tickSize": -8, "zindex": 1}}
              }
            },
            {
              "mark": {"type": "line", "color": "#ff0000", "strokeWidth": 1, "point": {"filled": true, "size": 12, "color": "#ff0000"}},
              "encoding": {"x": {"field": "day", "type": "quantitative"},
                "y": {"field": "tropo_R", "type": "quantitative", "axis": {"orient": "right", "values": [-20,-15,-10,-5,0,5,10,15,20], "tickCount": 8, "title": null, "labels": false, "tickSize": -8, "zindex": 1}}}
            },
            {"data": {"name": "keys"}, "transform": [{"filter": "datum.panel === 'tropo' && datum.series === 'E'"}], "mark": {"type": "text", "align": "right", "baseline": "middle", "font": "Liberation Sans", "fontSize": 15, "color": "black"}, "encoding": {"x": {"datum": 160.9}, "y": {"datum": 13.0}, "text": {"field": "label"}}},
            {"data": {"values": [{}]}, "mark": {"type": "rule", "color": "#0000ff", "strokeWidth": 1}, "encoding": {"x": {"datum": 162.05}, "x2": {"datum": 167.06}, "y": {"datum": 13.0}}},
            {"data": {"values": [{}]}, "mark": {"type": "point", "filled": true, "size": 12, "color": "#0000ff", "opacity": 1}, "encoding": {"x": {"datum": 164.55}, "y": {"datum": 13.0}}},
            {"data": {"name": "keys"}, "transform": [{"filter": "datum.panel === 'tropo' && datum.series === 'R'"}], "mark": {"type": "text", "align": "right", "baseline": "middle", "font": "Liberation Sans", "fontSize": 15, "color": "black"}, "encoding": {"x": {"datum": 160.9}, "y": {"datum": 6.9}, "text": {"field": "label"}}},
            {"data": {"values": [{}]}, "mark": {"type": "rule", "color": "#ff0000", "strokeWidth": 1}, "encoding": {"x": {"datum": 162.05}, "x2": {"datum": 167.06}, "y": {"datum": 6.9}}},
            {"data": {"values": [{}]}, "mark": {"type": "point", "filled": true, "size": 12, "color": "#ff0000", "opacity": 1}, "encoding": {"x": {"datum": 164.55}, "y": {"datum": 6.9}}}
          ]
        }
      ],
      "resolve": {"scale": {"x": "independent", "y": "independent"}}
    }
  ],
  "config": {
    "font": "Liberation Sans",
    "view": {"stroke": null},
    "axis": {
      "grid": false,
      "labelFont": "Liberation Sans",
      "labelFontSize": 15,
      "labelColor": "black",
      "labelFlush": false,
      "labelOverlap": false,
      "titleFont": "Liberation Sans",
      "titleFontSize": 15,
      "titleFontWeight": "normal",
      "titleColor": "black",
      "domainColor": "black",
      "domainWidth": 2,
      "domainCap": "square",
      "tickColor": "black",
      "tickWidth": 1
    }
  }
}
